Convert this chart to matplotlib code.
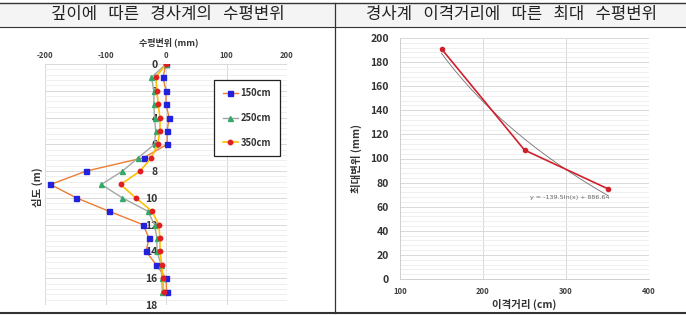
import matplotlib
matplotlib.use('Agg')
import matplotlib.pyplot as plt
import numpy as np
from matplotlib.ticker import MultipleLocator
from matplotlib.lines import Line2D
from matplotlib.patches import Rectangle

plt.rcParams['font.family'] = ['Noto Sans CJK KR', 'DejaVu Sans']
plt.rcParams['axes.unicode_minus'] = False

# 깊이별 수평변위 (mm)
depth = [0, 1, 2, 3, 4, 5, 6, 7, 8, 9, 10, 11, 12, 13, 14, 15, 16, 17]
disp_150 = [0, -5, 0, 0, 5, 2, 2, -37, -132, -191, -148, -94, -38, -28, -33, -16, 0, 1]
disp_250 = [0, -24, -20, -20, -19, -17, -19, -46, -72, -107, -72, -30, -19, -15, -15, -8, -7, -6]
disp_350 = [0, -17, -15, -13, -10, -10, -14, -24, -43, -75, -50, -23, -12, -10, -10, -7, -5, -4]
series_labels = ['150cm', '250cm', '350cm']

# 이격거리별 최대 수평변위
spacing = [150, 250, 350]
max_disp = [191, 107, 75]

W, H = 686, 315
fig = plt.figure(figsize=(W / 100, H / 100), dpi=100)


def fx(px):
    return px / W


def fy(py):
    return 1 - py / H


# 표 머리글
fig.add_artist(Rectangle((0, fy(27)), 1, fy(3) - fy(27), transform=fig.transFigure,
                         facecolor='#f4f4f4', edgecolor='none', zorder=0))
for yy, lw in [(3, 1.0), (27, 0.8), (313, 1.5)]:
    fig.add_artist(Line2D([0, 1], [fy(yy), fy(yy)], transform=fig.transFigure,
                          color='#333333', lw=lw))
fig.add_artist(Line2D([fx(335), fx(335)], [fy(3), fy(313)], transform=fig.transFigure,
                      color='#333333', lw=0.9))
fig.text(fx(168), fy(15), '깊이에   따른   경사계의   수평변위', ha='center', va='center',
         fontsize=12, color='#222222')
fig.text(fx(511), fy(15), '경사계   이격거리에   따른   최대   수평변위', ha='center', va='center',
         fontsize=12, color='#222222')

grid_major = '#d9d9d9'
grid_minor = '#ececec'
tick_col = '#404040'

# ---- 왼쪽: 깊이에 따른 수평변위 ----
ax1 = fig.add_axes([fx(45), fy(305), fx(287) - fx(45), fy(64) - fy(305)])
ax1.plot(disp_150, depth, color='#ED7D31', lw=1.0, marker='s', ms=3.6,
         mfc='#2222dd', mec='#2222dd', label=series_labels[0], zorder=3)
ax1.plot(disp_250, depth, color='#A5A5A5', lw=1.0, marker='^', ms=3.6,
         mfc='#33aa66', mec='#33aa66', label=series_labels[1], zorder=3)
ax1.plot(disp_350, depth, color='#FFC000', lw=1.2, marker='o', ms=3.2,
         mfc='#e02020', mec='#e02020', label=series_labels[2], zorder=4)
ax1.set_xlim(-200, 200)
ax1.set_ylim(18, 0)
ax1.xaxis.set_major_locator(MultipleLocator(100))
ax1.yaxis.set_major_locator(MultipleLocator(2))
ax1.yaxis.set_minor_locator(MultipleLocator(0.4))
ax1.xaxis.tick_top()
ax1.grid(True, which='major', axis='both', color=grid_major, lw=0.7)
ax1.grid(True, which='minor', axis='y', color=grid_minor, lw=0.6)
ax1.set_axisbelow(True)
for s in ['top', 'bottom', 'right']:
    ax1.spines[s].set_visible(False)
ax1.spines['left'].set_position(('data', 0))
ax1.spines['left'].set_visible(False)
ax1.tick_params(axis='both', which='both', length=0)
ax1.tick_params(axis='x', labelsize=5.5, pad=3, labelcolor=tick_col)
ax1.tick_params(axis='y', labelsize=7.5, pad=6, labelcolor='#333333')
for lab in ax1.get_xticklabels() + ax1.get_yticklabels():
    lab.set_fontweight('bold')
fig.text(fx(169), fy(42), '수평변위 (mm)', ha='center', va='center', fontsize=6.5,
         fontweight='bold', color='#333333')
fig.text(fx(37), fy(187), '심도 (m)', ha='center', va='center', rotation=90,
         fontsize=7.5, fontweight='bold', color='#333333')
leg = ax1.legend(loc='upper left', bbox_to_anchor=(fx(214), fy(80)),
                 bbox_transform=fig.transFigure, fontsize=6.8, frameon=True,
                 fancybox=False, edgecolor='#222222', framealpha=1,
                 labelspacing=1.55, handlelength=1.6, handletextpad=0.3,
                 borderpad=0.9, borderaxespad=0)
leg.get_frame().set_linewidth(0.9)
for t in leg.get_texts():
    t.set_fontweight('bold')
    t.set_color('#333333')

# ---- 오른쪽: 이격거리에 따른 최대 수평변위 ----
ax2 = fig.add_axes([fx(400), fy(279), fx(649) - fx(400), fy(38) - fy(279)])
coef = np.polyfit(np.log(spacing), max_disp, 1)
xs = np.linspace(min(spacing), max(spacing), 100)
ax2.plot(xs, coef[0] * np.log(xs) + coef[1], color='#707070', lw=0.6, zorder=3)
ax2.plot(spacing, max_disp, color='#d0202a', lw=1.2, marker='o', ms=3,
         mfc='#d0202a', mec='#d0202a', zorder=4)
ax2.text(305, 68, 'y = -139.5ln(x) + 886.64', fontsize=4.6, color='#666666',
         ha='center', va='center', family='DejaVu Sans')
ax2.set_xlim(100, 400)
ax2.set_ylim(0, 200)
ax2.xaxis.set_major_locator(MultipleLocator(100))
ax2.yaxis.set_major_locator(MultipleLocator(20))
ax2.yaxis.set_minor_locator(MultipleLocator(4))
ax2.grid(True, which='major', axis='both', color=grid_major, lw=0.7)
ax2.grid(True, which='minor', axis='y', color=grid_minor, lw=0.6)
ax2.set_axisbelow(True)
for s in ['top', 'right']:
    ax2.spines[s].set_visible(False)
for s in ['left', 'bottom']:
    ax2.spines[s].set_color('#d0d0d0')
    ax2.spines[s].set_linewidth(0.7)
ax2.tick_params(axis='both', which='both', length=0)
ax2.tick_params(axis='x', labelsize=5.5, pad=6, labelcolor=tick_col)
ax2.tick_params(axis='y', labelsize=7.5, pad=8, labelcolor='#333333')
for lab in ax2.get_xticklabels() + ax2.get_yticklabels():
    lab.set_fontweight('bold')
ax2.set_xlabel('이격거리 (cm)', fontsize=7.5, fontweight='bold', color='#333333', labelpad=2)
ax2.set_ylabel('최대변위 (mm)', fontsize=7.5, fontweight='bold', color='#333333', labelpad=6)

fig.savefig('out.png', dpi=100)
